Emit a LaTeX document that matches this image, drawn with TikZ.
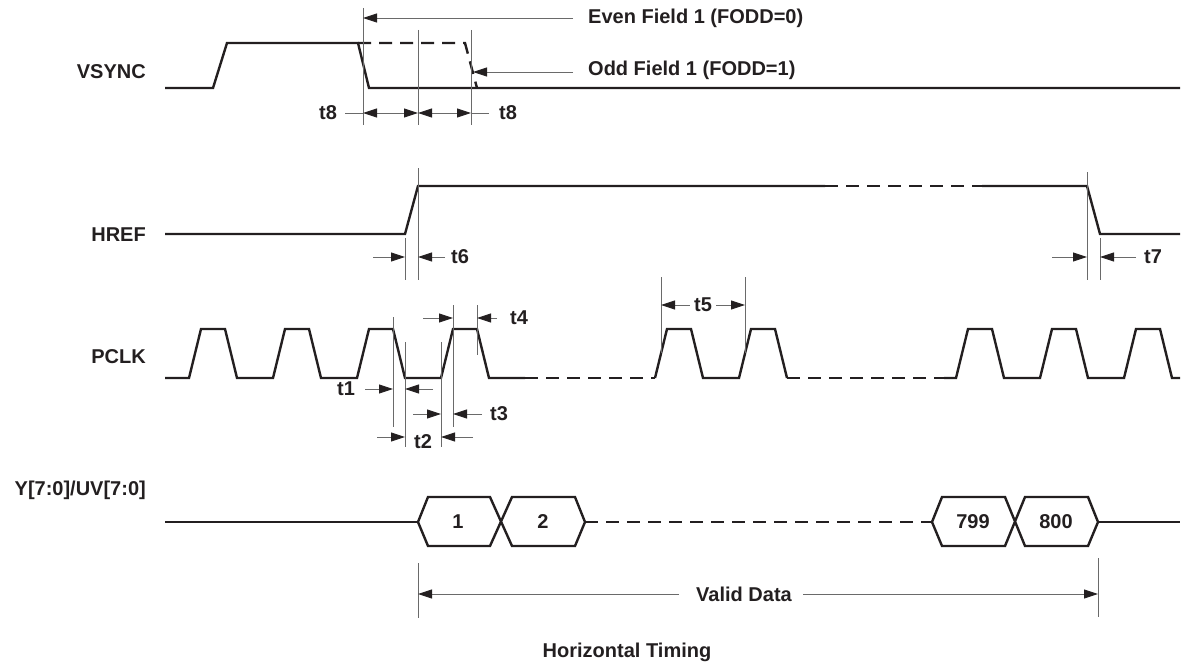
\documentclass[tikz,border=0pt]{standalone}
\usepackage{fontspec}
\setmainfont{Liberation Sans}
\usetikzlibrary{arrows.meta}
\definecolor{ink}{HTML}{231F20}
\definecolor{thin}{HTML}{6A6A6A}
\tikzset{
  sig/.style={line width=2.4pt, draw=ink, line join=miter},
  dsig/.style={sig, dash pattern=on 13pt off 8pt},
  dim/.style={line width=0.9pt, draw=thin},
  tip/.tip={Triangle[length=14pt,width=9pt,fill=ink,color=ink]},
  arr/.style={dim, -tip},
  darr/.style={dim, tip-tip},
  lbl/.style={font=\bfseries\fontsize{20}{24}\selectfont, text=ink, inner sep=0pt},
}
\begin{document}
\begin{tikzpicture}[x=1pt,y=-1pt]
\useasboundingbox (0,0) rectangle (1191,666);

% ---------- signal names ----------
\node[lbl, anchor=east] (nV) at (146,72) {VSYNC};
\node[lbl, anchor=east] (nH) at (146,235) {HREF};
\node[lbl, anchor=east] (nP) at (146,357) {PCLK};
\node[lbl, anchor=east] (nY) at (146,490) {Y[7:0]/UV[7:0]};

% ---------- VSYNC ----------
\draw[sig] (165,88) -- (213,88) -- (227,43) -- (358,43) -- (369,88) -- (1180,88);
\draw[dsig] (358,43) -- (465,43) -- (477,88);
\coordinate (v1t) at (363,8);   \coordinate (v1b) at (363,125);
\coordinate (v2t) at (418,30);  \coordinate (v2b) at (418,125);
\coordinate (v3t) at (471,30);  \coordinate (v3b) at (471,125);
\draw[dim] (v1t) -- (v1b);
\draw[dim] (v2t) -- (v2b);
\draw[dim] (v3t) -- (v3b);
\node[lbl, anchor=west] (even) at (588,18) {Even Field 1 (FODD=0)};
\node[lbl, anchor=west] (odd) at (588,70) {Odd Field 1 (FODD=1)};
\coordinate (evenA) at (573,18); \coordinate (evenB) at (363,18);
\coordinate (oddA) at (573,72);  \coordinate (oddB) at (473,72);
\draw[arr] (evenA) -- (evenB);
\draw[arr] (oddA) -- (oddB);
\node[lbl] (t8a) at (328,113) {t8};
\node[lbl] (t8b) at (508,113) {t8};
\coordinate (t8l) at (345,113); \coordinate (t8p) at (363,113);
\coordinate (t8q) at (418,113); \coordinate (t8r) at (471,113);
\coordinate (t8s) at (489,113);
\draw[dim] (t8l) -- (t8p);
\draw[darr] (t8p) -- (t8q);
\draw[darr] (t8q) -- (t8r);
\draw[dim] (t8r) -- (t8s);

% ---------- HREF ----------
\draw[sig] (165,234) -- (405,234) -- (418,186) -- (825,186);
\draw[dsig] (825,186) -- (982,186);
\draw[sig] (982,186) -- (1087,186) -- (1100,234) -- (1180,234);
\draw[dim] (405,238) -- (405,280);
\draw[dim] (418,168) -- (418,280);
\draw[dim] (1087,172) -- (1087,280);
\draw[dim] (1100,238) -- (1100,280);
\node[lbl] (t6) at (460,257) {t6};
\node[lbl] (t7) at (1153,257) {t7};
\coordinate (t6a) at (373,257); \coordinate (t6b) at (405,257);
\coordinate (t6c) at (445,257); \coordinate (t6d) at (418,257);
\draw[arr] (t6a) -- (t6b);
\draw[arr] (t6c) -- (t6d);
\coordinate (t7a) at (1052,257); \coordinate (t7b) at (1087,257);
\coordinate (t7c) at (1136,257); \coordinate (t7d) at (1100,257);
\draw[arr] (t7a) -- (t7b);
\draw[arr] (t7c) -- (t7d);

% ---------- PCLK ----------
\draw[sig] (165,378) foreach \b in {189,273,357,441} { -- (\b,378) -- (\b+12,329) -- (\b+36,329) -- (\b+48,378) } -- (525,378);
\draw[dsig] (525,378) -- (655,378);
\draw[sig] (655,378) foreach \b in {655,739} { -- (\b,378) -- (\b+12,329) -- (\b+36,329) -- (\b+48,378) };
\draw[dsig] (787,378) -- (944,378);
\draw[sig] (944,378) foreach \b in {956,1040,1124} { -- (\b,378) -- (\b+12,329) -- (\b+36,329) -- (\b+48,378) } -- (1180,378);
% dimension lines
\draw[dim] (393,317) -- (393,427);
\draw[dim] (405,342) -- (405,447);
\draw[dim] (441,342) -- (441,447);
\draw[dim] (453,305) -- (453,427);
\draw[dim] (477,305) -- (477,355);
\draw[dim] (661,277) -- (661,353);
\draw[dim] (745,277) -- (745,353);
\node[lbl] (t5) at (703,305) {t5};
\node[lbl] (t4) at (519,318) {t4};
\node[lbl] (t1) at (346,389) {t1};
\node[lbl] (t3) at (499,414) {t3};
\node[lbl] (t2) at (423,442) {t2};
\draw[arr] (t5.west) ++(-4,0) coordinate (t5a) -- (661,305);
\draw[arr] (t5.east) ++(4,0) coordinate (t5b) -- (745,305);
\draw[arr] (423,318) -- (453,318);
\draw[arr] (497,318) -- (477,318);
\draw[arr] (365,389) -- (393,389);
\draw[arr] (433,389) -- (405,389);
\draw[arr] (413,414) -- (441,414);
\draw[arr] (482,414) -- (453,414);
\draw[arr] (377,437) -- (405,437);
\draw[arr] (473,437) -- (441,437);

% ---------- Data ----------
\draw[sig] (165,522) -- (418,522);
\draw[sig] (418,522) -- (428,497) -- (490,497) -- (512,546) -- (575,546) -- (585,522) -- (575,497) -- (512,497) -- (490,546) -- (428,546) -- cycle;
\draw[dsig] (585,522) -- (932,522);
\draw[sig] (932,522) -- (942,497) -- (1005,497) -- (1025,546) -- (1088,546) -- (1098,522) -- (1088,497) -- (1025,497) -- (1005,546) -- (942,546) -- cycle;
\draw[sig] (1098,522) -- (1180,522);
\node[lbl] (d1) at (458,522) {1};
\node[lbl] (d2) at (543,522) {2};
\node[lbl] (d799) at (973,522) {799};
\node[lbl] (d800) at (1056,522) {800};

% ---------- Valid data ----------
\draw[dim] (418,563) -- (418,618);
\draw[dim] (1098,558) -- (1098,617);
\node[lbl] (vd) at (744,594) {Valid Data};
\coordinate (vdl) at (418,594); \coordinate (vdr) at (1098,594);
\draw[arr] (vd.west) ++(-17,0) -- (vdl);
\draw[arr] (vd.east) ++(11,0) -- (vdr);

\node[lbl] (title) at (627,652) {Horizontal Timing};
\end{tikzpicture}
\end{document}
